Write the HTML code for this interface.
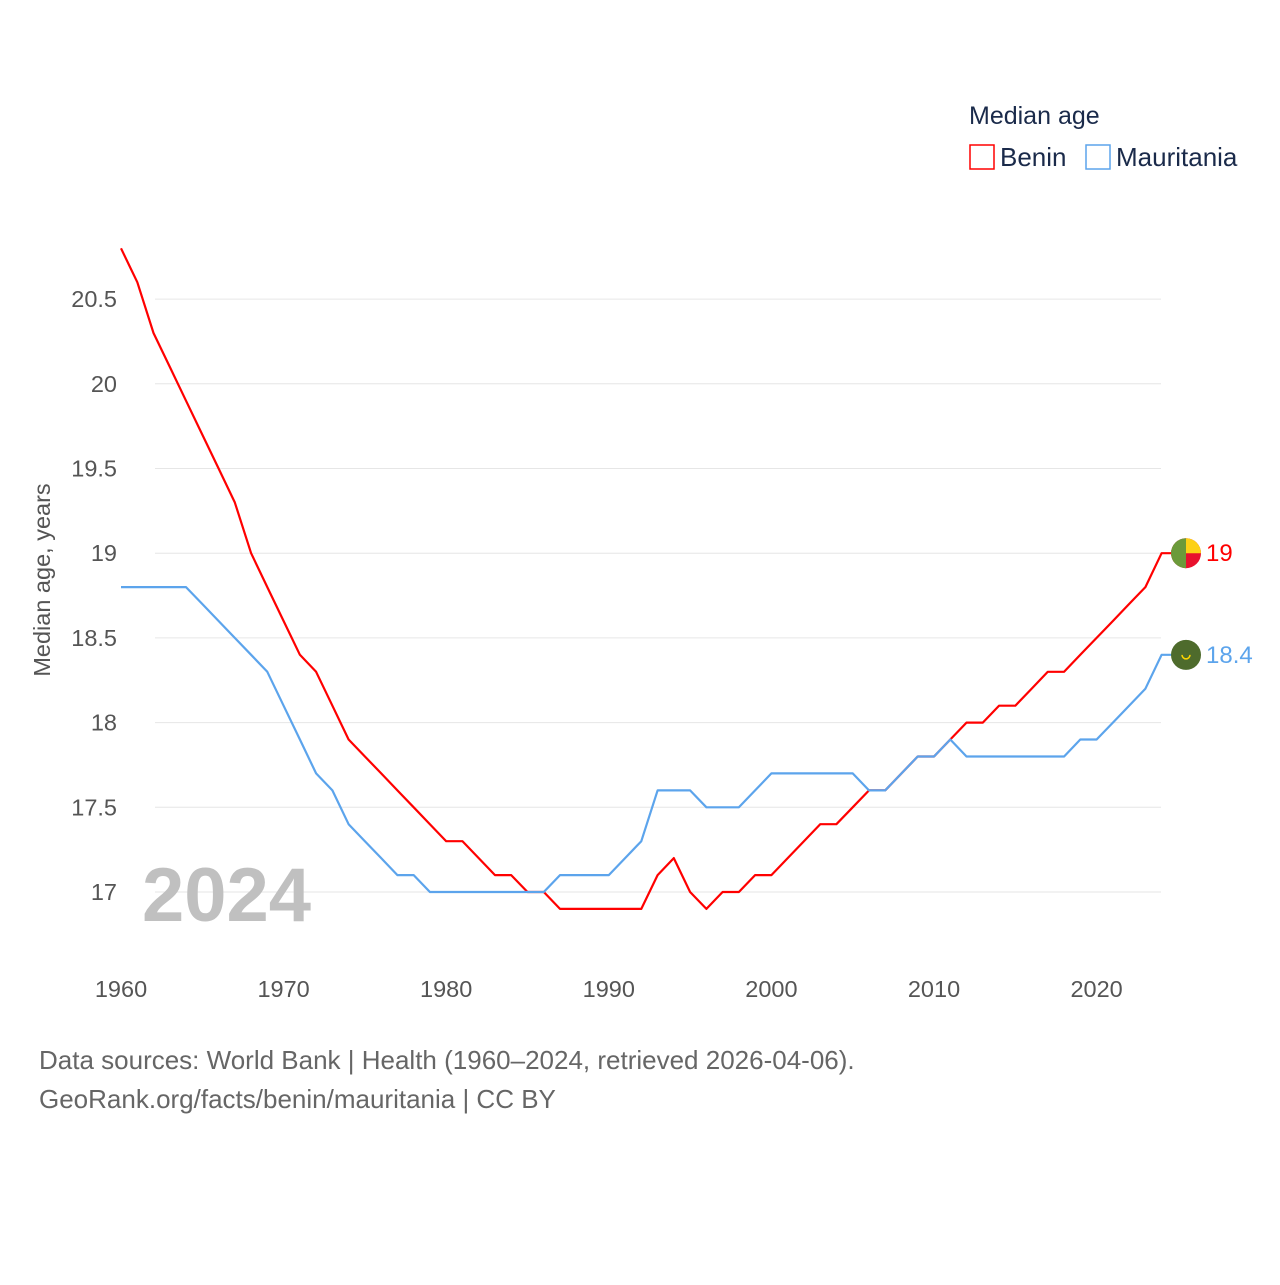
<!DOCTYPE html>
<html><head><meta charset="utf-8"><style>
body{margin:0;background:#fff;font-family:"Liberation Sans",sans-serif}
svg text{font-family:"Liberation Sans",sans-serif}
</style></head><body>
<svg id="chart" width="1280" height="1280" xmlns="http://www.w3.org/2000/svg">
<g id="grid"></g>
<g id="yticks"></g>
<g id="xticks"></g>
<text x="142" y="921" font-size="76" font-weight="bold" fill="#c0c0c0">2024</text>
<text transform="translate(50,580) rotate(-90)" text-anchor="middle" font-size="23.5" fill="#555">Median age, years</text>
<g id="series"></g>
<text x="969" y="124" font-size="25" fill="#1a2a4a">Median age</text>
<g><rect x="970" y="145" width="24" height="24" fill="none" stroke="#f00" stroke-width="1.5"/><text x="1000" y="166" font-size="26" fill="#1a2a4a">Benin</text></g>
<g><rect x="1086" y="145" width="24" height="24" fill="none" stroke="#5ca4ec" stroke-width="1.5"/><text x="1116" y="166" font-size="26" fill="#1a2a4a">Mauritania</text></g>
<text x="39" y="1069" font-size="26" fill="#666">Data sources: World Bank | Health (1960–2024, retrieved 2026-04-06).</text>
<text x="39" y="1108" font-size="26" fill="#666">GeoRank.org/facts/benin/mauritania | CC BY</text>
</svg>
<script>
const years=[];for(let y=1960;y<=2024;y++)years.push(y);
const benin=[20.8,20.6,20.3,20.1,19.9,19.7,19.5,19.3,19.0,18.8,18.6,18.4,18.3,18.1,17.9,17.8,17.7,17.6,17.5,17.4,17.3,17.3,17.2,17.1,17.1,17.0,17.0,16.9,16.9,16.9,16.9,16.9,16.9,17.1,17.2,17.0,16.9,17.0,17.0,17.1,17.1,17.2,17.3,17.4,17.4,17.5,17.6,17.6,17.7,17.8,17.8,17.9,18.0,18.0,18.1,18.1,18.2,18.3,18.3,18.4,18.5,18.6,18.7,18.8,19.0];
const mauritania=[18.8,18.8,18.8,18.8,18.8,18.7,18.6,18.5,18.4,18.3,18.1,17.9,17.7,17.6,17.4,17.3,17.2,17.1,17.1,17.0,17.0,17.0,17.0,17.0,17.0,17.0,17.0,17.1,17.1,17.1,17.1,17.2,17.3,17.6,17.6,17.6,17.5,17.5,17.5,17.6,17.7,17.7,17.7,17.7,17.7,17.7,17.6,17.6,17.7,17.8,17.8,17.9,17.8,17.8,17.8,17.8,17.8,17.8,17.8,17.9,17.9,18.0,18.1,18.2,18.4];
const yTicks=[17,17.5,18,18.5,19,19.5,20,20.5];
const xTicks=[1960,1970,1980,1990,2000,2010,2020];
const NS="http://www.w3.org/2000/svg";
const X=y=>121+(y-1960)*16.26;
const Y=v=>892-(v-17)*169.4;
function mk(t,a,p){const e=document.createElementNS(NS,t);for(const k in a)e.setAttribute(k,a[k]);p.appendChild(e);return e;}
const grid=document.getElementById('grid'),yt=document.getElementById('yticks'),xt=document.getElementById('xticks'),ser=document.getElementById('series');
yTicks.forEach(v=>{
const l=mk('line',{x1:155,x2:1161,y1:Y(v),y2:Y(v),stroke:'#e6e6e6','stroke-width':1},grid);


const t=mk('text',{x:117,y:Y(v)+8,'text-anchor':'end','font-size':23.5,fill:'#555'},yt);t.textContent=String(v);


});
xTicks.forEach(v=>{
const t=mk('text',{x:X(v),y:997,'text-anchor':'middle','font-size':23.5,fill:'#555'},xt);t.textContent=v;


});
function line(vals,col,name){
let d=vals.map((v,i)=>(i?'L':'M')+X(years[i]).toFixed(1)+' '+Y(v).toFixed(1)).join(' ');
d+=' L'+(X(2024)+12)+' '+Y(vals[vals.length-1]).toFixed(1);
const p=mk('path',{d:d,fill:'none',stroke:col,'stroke-width':2.2,'stroke-linejoin':'round'},ser);


const last=vals[vals.length-1];
const t=mk('text',{x:1206,y:Y(last)+8,'font-size':24,fill:col},ser);t.textContent=String(last);


}
line(benin,'#f00','benin');line(mauritania,'#5ca4ec','mauritania');
const by=Y(benin[benin.length-1]),my=Y(mauritania[mauritania.length-1]),cx=1186;
const fb=mk('g',{},ser);


mk('circle',{cx:cx,cy:by,r:15,fill:'#e8112d'},fb);
mk('path',{d:`M${cx} ${by} L${cx+15} ${by} A15 15 0 0 0 ${cx} ${by-15} Z`,fill:'#fcd116'},fb);
mk('path',{d:`M${cx} ${by-15} A15 15 0 0 0 ${cx} ${by+15} Z`,fill:'#6b9a3a'},fb);
const fm=mk('g',{},ser);


mk('circle',{cx:cx,cy:my,r:15,fill:'#4e6b2c'},fm);
mk('path',{d:`M${cx-4} ${my} A4 4 0 0 0 ${cx+4} ${my}`,fill:'none',stroke:'#ffd700','stroke-width':1.5},fm);
</script>
</body></html>
